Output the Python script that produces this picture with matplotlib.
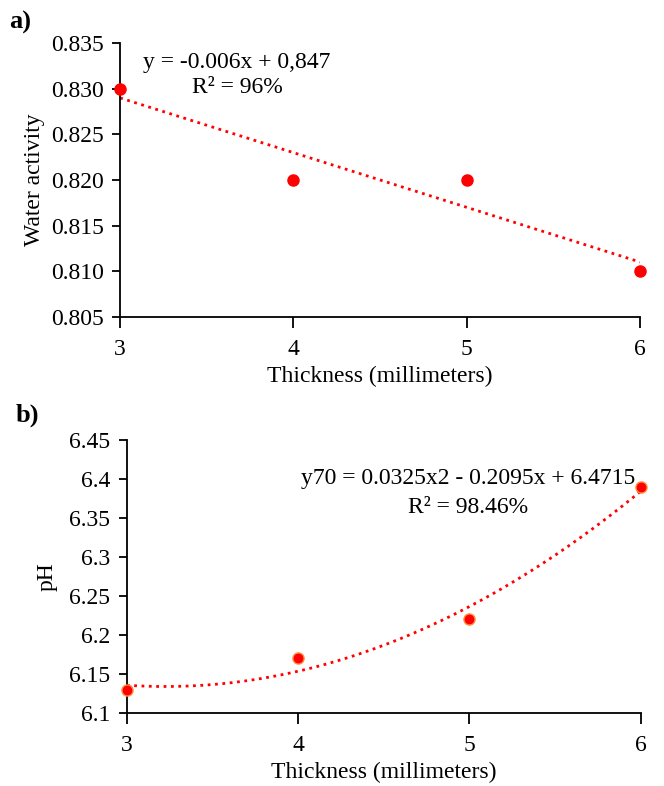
import numpy as np
import matplotlib.pyplot as plt

plt.rcParams['font.family'] = ['Liberation Serif', 'DejaVu Serif']

# panel a data
thick = [3, 4, 5, 6]
aw = [0.830, 0.820, 0.820, 0.810]
# panel b data
ph = [6.13, 6.17, 6.22, 6.39]

fs = 17
fig = plt.figure(figsize=(6.64, 7.86), dpi=100)
ax1 = fig.add_axes([0.181, 0.597, 0.783, 0.348])
ax2 = fig.add_axes([0.191, 0.093, 0.774, 0.347])

xs = np.linspace(3, 6, 200)

# a) linear trend
c1 = np.polyfit(thick, aw, 1)
ax1.plot(xs, np.polyval(c1, xs), ':', color='red', lw=2)
ax1.plot(thick, aw, 'o', color='red', ms=8, clip_on=False, zorder=5)
ax1.set_xlim(3, 6)
ax1.set_ylim(0.805, 0.835)
ax1.set_xticks([3, 4, 5, 6])
yt = np.arange(0.805, 0.8351, 0.005)
ax1.set_yticks(yt)
ax1.set_yticklabels(['%.3f' % v for v in yt])
ax1.set_xlabel('Thickness (millimeters)', fontsize=fs)
ax1.set_ylabel('Water activity', fontsize=fs, labelpad=4)
ax1.text(3.675, 0.8329, 'y = -0.006x + 0,847', ha='center', va='center', fontsize=fs)
ax1.text(3.675, 0.8301, 'R² = 96%', ha='center', va='center', fontsize=fs)
fig.text(0.013, 0.971, 'a)', fontsize=19, fontweight='bold', va='center')

# b) quadratic trend
c2 = np.polyfit(thick, ph, 2)
ax2.plot(xs, np.polyval(c2, xs), ':', color='red', lw=2)
ax2.plot(thick, ph, 'o', color='red', mec='#ff8c3a', mew=1, ms=8, clip_on=False, zorder=5)
ax2.set_xlim(3, 6)
ax2.set_ylim(6.1, 6.45)
ax2.set_xticks([3, 4, 5, 6])
ax2.set_yticks([6.1, 6.15, 6.2, 6.25, 6.3, 6.35, 6.4, 6.45])
ax2.set_yticklabels(['6.1', '6.15', '6.2', '6.25', '6.3', '6.35', '6.4', '6.45'])
ax2.set_xlabel('Thickness (millimeters)', fontsize=fs)
ax2.set_ylabel('pH', fontsize=fs, labelpad=8)
ax2.text(4.99, 6.401, 'y70 = 0.0325x2 - 0.2095x + 6.4715', ha='center', va='center', fontsize=fs)
ax2.text(4.99, 6.364, 'R² = 98.46%', ha='center', va='center', fontsize=fs)
fig.text(0.024, 0.472, 'b)', fontsize=19, fontweight='bold', va='center')

for ax in (ax1, ax2):
    ax.spines['top'].set_visible(False)
    ax.spines['right'].set_visible(False)
    ax.tick_params(labelsize=fs, direction='out', width=1.3)
    ax.tick_params(axis='y', length=6, pad=6)
    ax.tick_params(axis='x', length=8, pad=8)
    ax.spines['left'].set_linewidth(1.3)
    ax.spines['bottom'].set_linewidth(1.3)

fig.savefig('out.png', dpi=100)
